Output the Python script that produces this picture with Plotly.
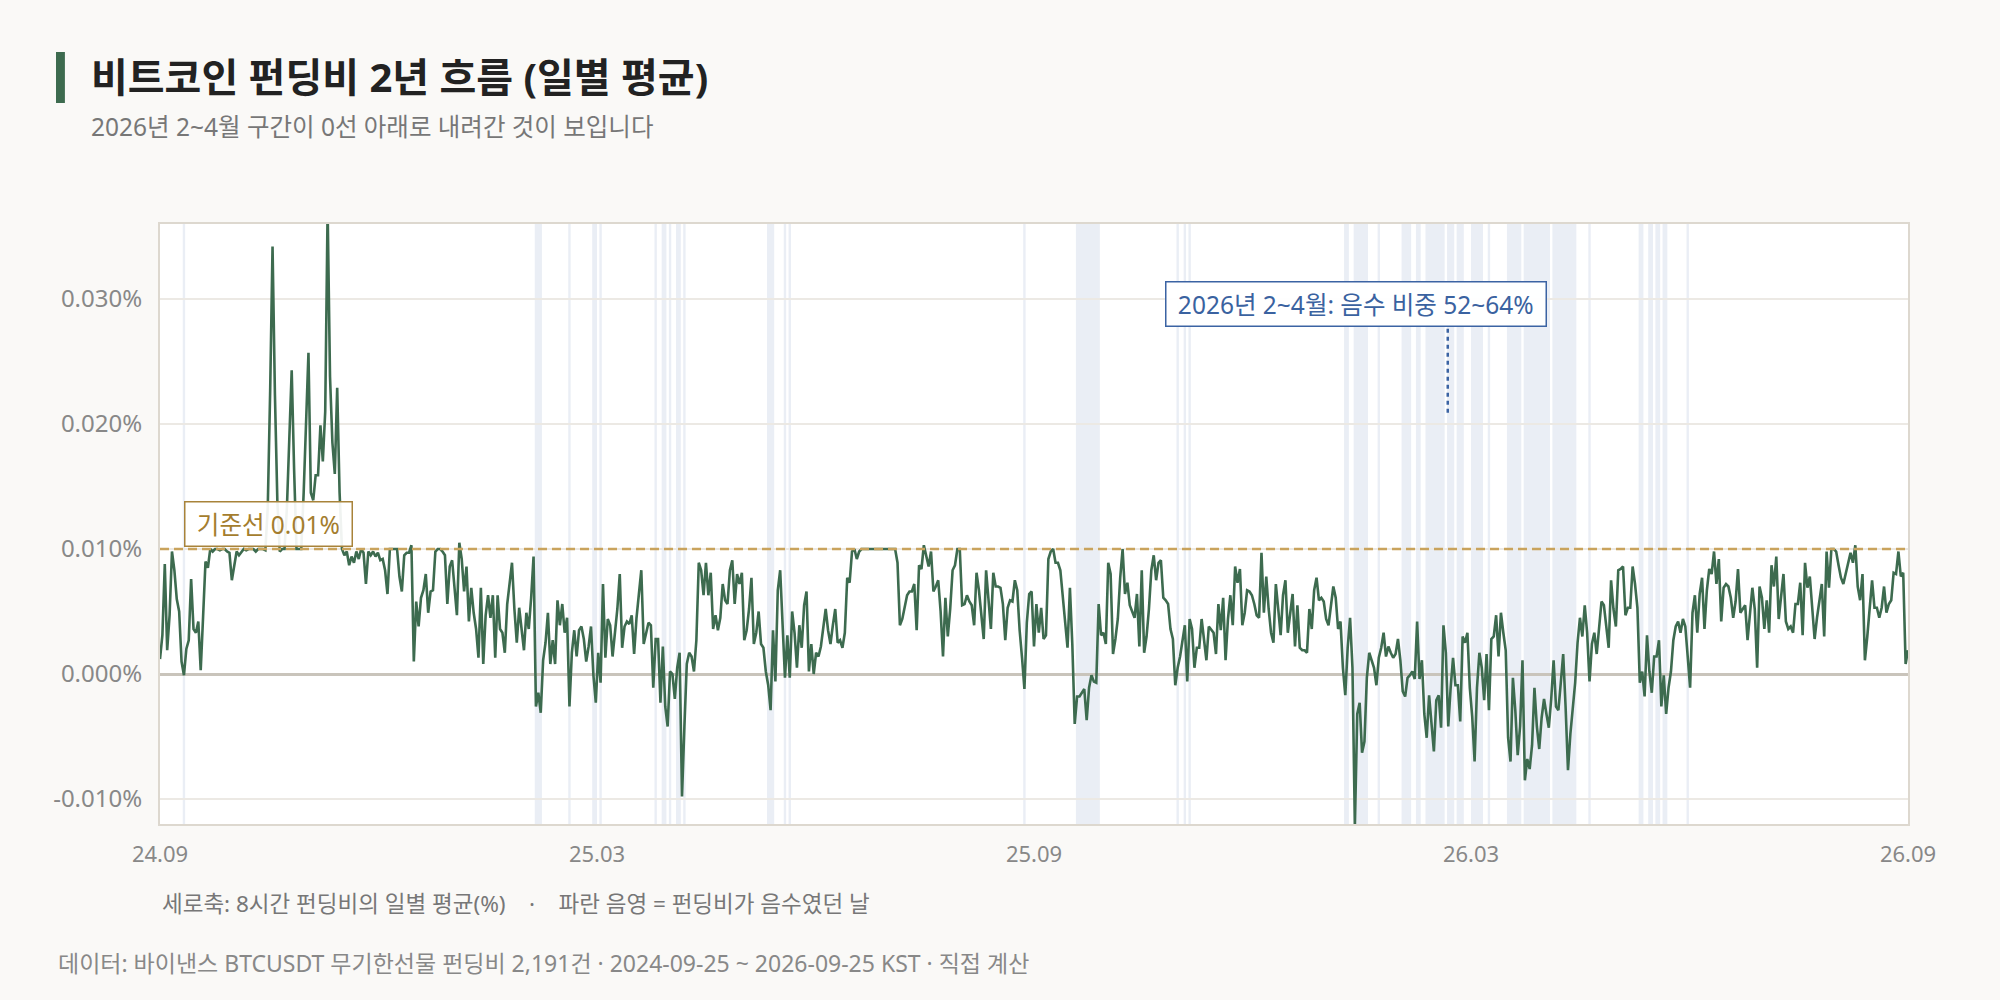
import pandas as pd
import plotly.graph_objects as go

# ---------------------------------------------------------------
# 데이터 (일별 평균 펀딩비, 단위 %)  - 2024-09-25 부터 하루씩
# ---------------------------------------------------------------
start_date = "2024-09-25"

rates_2409_2503 = [
    0.0012, 0.0031, 0.0088, 0.0019, 0.0047, 0.0098, 0.0083, 0.0060, 0.0050, 0.0010,
    -0.0001, 0.0020, 0.0027, 0.0076, 0.0036, 0.0033, 0.0042, 0.0003, 0.0046, 0.0090,
    0.0085, 0.0100, 0.0098, 0.0100, 0.0100, 0.0099, 0.0100, 0.0100, 0.0098, 0.0097,
    0.0075, 0.0088, 0.0098, 0.0095, 0.0098, 0.0100, 0.0099, 0.0100, 0.0100, 0.0100,
    0.0098, 0.0100, 0.0100, 0.0100, 0.0099, 0.0133, 0.0226, 0.0342, 0.0223, 0.0139,
    0.0098, 0.0100, 0.0100, 0.0133, 0.0188, 0.0243, 0.0164, 0.0100, 0.0100, 0.0100,
    0.0145, 0.0198, 0.0257, 0.0145, 0.0139, 0.0159, 0.0159, 0.0199, 0.0170, 0.0210,
    0.0372, 0.0238, 0.0185, 0.0160, 0.0229, 0.0145, 0.0100, 0.0095, 0.0098, 0.0087,
    0.0094, 0.0089, 0.0098, 0.0092, 0.0100, 0.0097, 0.0072, 0.0098, 0.0095, 0.0098,
    0.0094, 0.0097, 0.0091, 0.0092, 0.0083, 0.0064, 0.0100, 0.0100, 0.0100, 0.0100,
    0.0078, 0.0066, 0.0095, 0.0097, 0.0097, 0.0103, 0.0010, 0.0058, 0.0038, 0.0061,
    0.0067, 0.0080, 0.0049, 0.0066, 0.0067, 0.0098, 0.0100, 0.0100, 0.0098, 0.0095,
    0.0056, 0.0086, 0.0091, 0.0069, 0.0047, 0.0105, 0.0092, 0.0066, 0.0086, 0.0042,
    0.0069, 0.0049, 0.0036, 0.0013, 0.0069, 0.0008, 0.0047, 0.0063, 0.0045, 0.0063,
    0.0013, 0.0063, 0.0036, 0.0033, 0.0017, 0.0056, 0.0072, 0.0089, 0.0052, 0.0025,
    0.0053, 0.0033, 0.0019, 0.0049, 0.0036, 0.0061, 0.0094, -0.0026, -0.0015, -0.0031,
    0.0011, 0.0025, 0.0049, 0.0008, 0.0027, 0.0008, 0.0059, 0.0039, 0.0056, 0.0033,
    0.0045, -0.0026, 0.0017, 0.0035, 0.0014, 0.0035, 0.0038, 0.0028, 0.0010, 0.0022,
    0.0038, -0.0001, -0.0023, 0.0017,
]

rates_2503_2509 = [
    -0.0007, 0.0072, 0.0013, 0.0044, 0.0039, 0.0014, 0.0033, 0.0052, 0.0080, 0.0021,
    0.0038, 0.0042, 0.0040, 0.0047, 0.0016, 0.0045, 0.0064, 0.0083, 0.0024, 0.0034,
    0.0041, 0.0039, -0.0011, 0.0028, 0.0028, -0.0023, 0.0022, -0.0026, -0.0042, 0.0002,
    0.0000, -0.0020, 0.0005, 0.0017, -0.0098, -0.0042, 0.0008, 0.0017, 0.0014, 0.0002,
    0.0027, 0.0089, 0.0083, 0.0063, 0.0089, 0.0063, 0.0081, 0.0036, 0.0047, 0.0035,
    0.0045, 0.0072, 0.0059, 0.0056, 0.0083, 0.0091, 0.0056, 0.0080, 0.0072, 0.0081,
    0.0027, 0.0035, 0.0052, 0.0077, 0.0024, 0.0033, 0.0050, 0.0024, 0.0021, 0.0002,
    -0.0009, -0.0029, 0.0035, -0.0006, 0.0067, 0.0083, 0.0039, -0.0003, 0.0031, -0.0003,
    0.0050, 0.0033, 0.0005, 0.0039, 0.0021, 0.0055, 0.0066, 0.0002, 0.0024, 0.0000,
    0.0017, 0.0014, 0.0022, 0.0039, 0.0052, 0.0035, 0.0024, 0.0039, 0.0052, 0.0025,
    0.0027, 0.0021, 0.0033, 0.0077, 0.0073, 0.0098, 0.0100, 0.0092, 0.0098, 0.0100,
    0.0100, 0.0100, 0.0100, 0.0100, 0.0100, 0.0100, 0.0100, 0.0100, 0.0100, 0.0100,
    0.0100, 0.0100, 0.0100, 0.0100, 0.0089, 0.0039, 0.0044, 0.0055, 0.0063, 0.0066,
    0.0066, 0.0072, 0.0035, 0.0087, 0.0084, 0.0103, 0.0095, 0.0086, 0.0098, 0.0066,
    0.0070, 0.0075, 0.0050, 0.0014, 0.0061, 0.0030, 0.0052, 0.0083, 0.0087, 0.0100,
    0.0100, 0.0055, 0.0056, 0.0063, 0.0058, 0.0055, 0.0039, 0.0081, 0.0067, 0.0049,
    0.0028, 0.0083, 0.0056, 0.0036, 0.0081, 0.0070, 0.0070, 0.0069, 0.0056, 0.0027,
    0.0053, 0.0059, 0.0058, 0.0075, 0.0067, 0.0035, 0.0013, -0.0012, 0.0041, 0.0064,
    0.0066, 0.0022, 0.0056, 0.0033,
]

rates_2509_2603 = [
    0.0053, 0.0028, 0.0031, 0.0092, 0.0098, 0.0100, 0.0089, 0.0089, 0.0083, 0.0064,
    0.0039, 0.0021, 0.0069, 0.0024, -0.0040, -0.0018, -0.0018, -0.0015, -0.0012, -0.0037,
    -0.0011, -0.0001, -0.0006, -0.0007, 0.0056, 0.0031, 0.0033, 0.0024, 0.0089, 0.0080,
    0.0016, 0.0028, 0.0044, 0.0077, 0.0100, 0.0064, 0.0073, 0.0055, 0.0050, 0.0045,
    0.0064, 0.0022, 0.0083, 0.0017, 0.0030, 0.0052, 0.0083, 0.0095, 0.0075, 0.0089,
    0.0091, 0.0061, 0.0059, 0.0056, 0.0036, 0.0028, -0.0009, 0.0005, 0.0014, 0.0025,
    0.0039, -0.0006, 0.0044, 0.0036, 0.0005, 0.0021, 0.0021, 0.0044, 0.0027, 0.0011,
    0.0038, 0.0035, 0.0033, 0.0016, 0.0056, 0.0035, 0.0061, 0.0011, 0.0044, 0.0063,
    0.0039, 0.0086, 0.0073, 0.0084, 0.0039, 0.0049, 0.0067, 0.0066, 0.0063, 0.0056,
    0.0047, 0.0045, 0.0097, 0.0049, 0.0078, 0.0052, 0.0033, 0.0025, 0.0072, 0.0052,
    0.0031, 0.0063, 0.0075, 0.0033, 0.0049, 0.0064, 0.0022, 0.0055, 0.0021, 0.0019,
    0.0019, 0.0017, 0.0052, 0.0036, 0.0067, 0.0077, 0.0059, 0.0061, 0.0058, 0.0044,
    0.0039, 0.0056, 0.0070, 0.0061, 0.0036, 0.0042, 0.0005, -0.0017, 0.0021, 0.0045,
    0.0005, -0.0122, -0.0032, -0.0023, -0.0063, -0.0054, -0.0003, 0.0017, 0.0011, 0.0005,
    -0.0009, 0.0013, 0.0021, 0.0033, 0.0014, 0.0022, 0.0017, 0.0013, 0.0016, 0.0028,
    0.0011, -0.0014, -0.0018, -0.0003, -0.0001, 0.0002, -0.0004, 0.0042, -0.0004, 0.0011,
    -0.0032, -0.0051, -0.0017, -0.0042, -0.0062, -0.0021, -0.0017, -0.0043, 0.0039, 0.0017,
    -0.0042, -0.0011, 0.0013, -0.0009, -0.0009, -0.0038, 0.0030, 0.0025, 0.0033, -0.0011,
    -0.0034, -0.0070, -0.0011, 0.0017,
]

rates_2603_2609 = [
    0.0005, -0.0021, 0.0016, -0.0029, 0.0028, 0.0030, 0.0047, 0.0014, 0.0049, 0.0033,
    0.0019, -0.0051, -0.0070, -0.0003, -0.0029, -0.0065, -0.0042, 0.0011, -0.0085, -0.0068,
    -0.0076, -0.0057, -0.0011, -0.0042, -0.0060, -0.0035, -0.0020, -0.0032, -0.0043, -0.0020,
    0.0011, -0.0026, -0.0029, -0.0007, 0.0016, -0.0026, -0.0077, -0.0048, -0.0026, -0.0007,
    0.0025, 0.0045, 0.0030, 0.0055, 0.0033, -0.0006, 0.0024, 0.0033, 0.0016, 0.0038,
    0.0058, 0.0055, 0.0039, 0.0021, 0.0075, 0.0052, 0.0038, 0.0083, 0.0084, 0.0086,
    0.0047, 0.0053, 0.0053, 0.0086, 0.0072, 0.0053, -0.0007, 0.0002, -0.0018, 0.0031,
    0.0002, -0.0015, 0.0014, 0.0014, 0.0027, -0.0026, -0.0001, -0.0032, -0.0011, 0.0002,
    0.0027, 0.0038, 0.0042, 0.0033, 0.0044, 0.0038, 0.0014, -0.0011, 0.0049, 0.0063,
    0.0033, 0.0064, 0.0077, 0.0036, 0.0067, 0.0084, 0.0080, 0.0098, 0.0072, 0.0092,
    0.0042, 0.0069, 0.0072, 0.0070, 0.0061, 0.0045, 0.0058, 0.0084, 0.0049, 0.0052,
    0.0055, 0.0027, 0.0049, 0.0069, 0.0052, 0.0005, 0.0070, 0.0061, 0.0036, 0.0059,
    0.0033, 0.0087, 0.0070, 0.0094, 0.0044, 0.0063, 0.0080, 0.0042, 0.0036, 0.0038,
    0.0033, 0.0056, 0.0056, 0.0073, 0.0031, 0.0089, 0.0069, 0.0078, 0.0053, 0.0028,
    0.0045, 0.0058, 0.0072, 0.0030, 0.0098, 0.0069, 0.0100, 0.0100, 0.0098, 0.0087,
    0.0077, 0.0072, 0.0080, 0.0089, 0.0097, 0.0089, 0.0103, 0.0070, 0.0059, 0.0080,
    0.0011, 0.0030, 0.0055, 0.0075, 0.0053, 0.0053, 0.0045, 0.0053, 0.0070, 0.0049,
    0.0056, 0.0059, 0.0081, 0.0080, 0.0098, 0.0078, 0.0081, 0.0008, 0.0019,
]

# 펀딩비가 음수였던 날 (파란 음영 구간, 시작일 ~ 종료일)
neg_start = [
    "2024-10-05", "2025-03-01", "2025-03-15", "2025-03-25", "2025-03-28",
    "2025-04-20", "2025-04-23", "2025-04-26", "2025-04-29", "2025-05-02",
    "2025-06-06", "2025-06-13", "2025-06-15", "2025-09-21", "2025-10-13",
    "2025-11-24", "2025-11-27", "2025-11-29", "2026-02-02", "2026-02-06",
    "2026-02-16", "2026-02-26", "2026-03-04", "2026-03-08", "2026-03-17",
    "2026-03-21", "2026-03-27", "2026-04-03", "2026-04-11", "2026-04-18",
    "2026-04-30", "2026-05-15", "2026-06-05", "2026-06-09", "2026-06-12",
    "2026-06-15", "2026-06-25",
]
neg_end = [
    "2024-10-05", "2025-03-03", "2025-03-15", "2025-03-26", "2025-03-28",
    "2025-04-20", "2025-04-24", "2025-04-26", "2025-04-30", "2025-05-02",
    "2025-06-08", "2025-06-13", "2025-06-15", "2025-09-21", "2025-10-22",
    "2025-11-24", "2025-11-27", "2025-11-29", "2026-02-03", "2026-02-11",
    "2026-02-16", "2026-03-01", "2026-03-05", "2026-03-15", "2026-03-19",
    "2026-03-23", "2026-03-31", "2026-04-03", "2026-04-16", "2026-04-28",
    "2026-05-09", "2026-05-15", "2026-06-06", "2026-06-10", "2026-06-13",
    "2026-06-16", "2026-06-25",
]

x_tick_vals = ["2024-09-25", "2025-03-26 12:00", "2025-09-25", "2026-03-26 12:00", "2026-09-25"]
x_tick_text = ["24.09", "25.03", "25.09", "26.03", "26.09"]
y_tick_vals = [-0.01, 0.0, 0.01, 0.02, 0.03]
y_tick_text = ["-0.010%", "0.000%", "0.010%", "0.020%", "0.030%"]
baseline = 0.01

# ---------------------------------------------------------------
FONT = "Noto Sans, Noto Sans CJK KR, sans-serif"
GREEN = "#3d6b4f"
GOLD = "#c9a35c"
BLUE = "#3b63a3"
NB = "\u00a0"

rates = rates_2409_2503 + rates_2503_2509 + rates_2509_2603 + rates_2603_2609
dates = pd.date_range(start_date, periods=len(rates), freq="D")

fig = go.Figure()
fig.add_trace(go.Scatter(
    x=dates, y=rates, mode="lines",
    line=dict(color=GREEN, width=2.6),
    hoverinfo="skip",
))

half_day = pd.Timedelta(hours=12)
shapes = []
for s, e in zip(neg_start, neg_end):
    shapes.append(dict(
        type="rect", xref="x", yref="paper",
        x0=pd.Timestamp(s) - half_day, x1=pd.Timestamp(e) + half_day,
        y0=0, y1=1, fillcolor="#eaeef5", line=dict(width=0), layer="below",
    ))

# 기준선 0.01%
shapes.append(dict(
    type="line", xref="paper", yref="y", x0=0, x1=1, y0=baseline, y1=baseline,
    line=dict(color=GOLD, width=2.5, dash="9px,5px"), layer="above",
))
# 주석 연결 점선
shapes.append(dict(
    type="line", xref="x", yref="y",
    x0="2026-03-16 19:00", x1="2026-03-16 19:00", y0=0.0209, y1=0.0278,
    line=dict(color=BLUE, width=2.5, dash="4px,4px"),
))
# 제목 옆 초록 막대
shapes.append(dict(
    type="rect", xref="paper", yref="paper",
    x0=-0.0595, x1=-0.0544, y0=1.2017, y1=1.2867,
    fillcolor=GREEN, line=dict(width=0),
))

annotations = [
    dict(xref="paper", yref="paper", x=-0.0406, y=1.245, xanchor="left", yanchor="middle",
         text="<b>비트코인 펀딩비 2년 흐름 (일별 평균)</b>", showarrow=False,
         font=dict(family=FONT, size=40, color="#222222")),
    dict(xref="paper", yref="paper", x=-0.0406, y=1.1617, xanchor="left", yanchor="middle",
         text="2026년 2~4월 구간이 0선 아래로 내려간 것이 보입니다", showarrow=False,
         font=dict(family=FONT, size=24.5, color="#777777")),
    dict(xref="paper", yref="paper", x=0.0, y=-0.1317, xanchor="left", yanchor="middle",
         text="세로축: 8시간 펀딩비의 일별 평균(%)" + NB * 4 + "·" + NB * 4 + "파란 음영 = 펀딩비가 음수였던 날",
         showarrow=False, font=dict(family=FONT, size=22.5, color="#777777")),
    dict(xref="paper", yref="paper", x=-0.0595, y=-0.2317, xanchor="left", yanchor="middle",
         text="데이터: 바이낸스 BTCUSDT 무기한선물 펀딩비 2,191건 · 2024-09-25 ~ 2026-09-25 KST · 직접 계산",
         showarrow=False, font=dict(family=FONT, size=23, color="#888888")),
    dict(xref="x", yref="y", x="2024-11-09 08:00", y=0.0102, xanchor="center", yanchor="bottom",
         text=NB + "기준선 0.01%" + NB, showarrow=False,
         font=dict(family=FONT, size=24.5, color="#a47d2e"),
         bgcolor="rgba(255,255,255,0.92)", bordercolor="#a8833a", borderwidth=1.5, borderpad=5),
    dict(xref="x", yref="y", x="2026-02-06 14:00", y=0.0278, xanchor="center", yanchor="bottom",
         text=NB + "2026년 2~4월: 음수 비중 52~64%" + NB, showarrow=False,
         font=dict(family=FONT, size=24.5, color="#3a62a0"),
         bgcolor="rgba(255,255,255,0.95)", bordercolor=BLUE, borderwidth=1.5, borderpad=5),
]

fig.update_layout(
    width=2000, height=1000,
    margin=dict(l=160, r=92, t=224, b=176),
    paper_bgcolor="#faf9f7", plot_bgcolor="#ffffff",
    showlegend=False,
    font=dict(family=FONT, color="#888888"),
    shapes=shapes,
    annotations=annotations,
)
fig.update_xaxes(
    type="date", range=[dates[0], dates[-1]],
    tickmode="array", tickvals=x_tick_vals, ticktext=x_tick_text,
    showgrid=False, zeroline=False,
    showline=True, mirror=True, linecolor="#ddd8cf", linewidth=2,
    ticks="", ticklabelstandoff=10,
    tickfont=dict(family=FONT, size=22, color="#888888"),
)
fig.update_yaxes(
    range=[-0.012, 0.036],
    tickmode="array", tickvals=y_tick_vals, ticktext=y_tick_text,
    showgrid=True, gridcolor="#ece9e4", gridwidth=1.5,
    zeroline=True, zerolinecolor="#c9c4bb", zerolinewidth=2.5,
    showline=True, mirror=True, linecolor="#ddd8cf", linewidth=2,
    ticks="", ticklabelstandoff=11,
    tickfont=dict(family=FONT, size=24, color="#888888"),
)

# 페이지 기본 여백 제거, 모드바 숨김
fig.write_html(
    "out.html",
    config={"displayModeBar": False},
    post_script="document.body.style.margin='0';",
)
